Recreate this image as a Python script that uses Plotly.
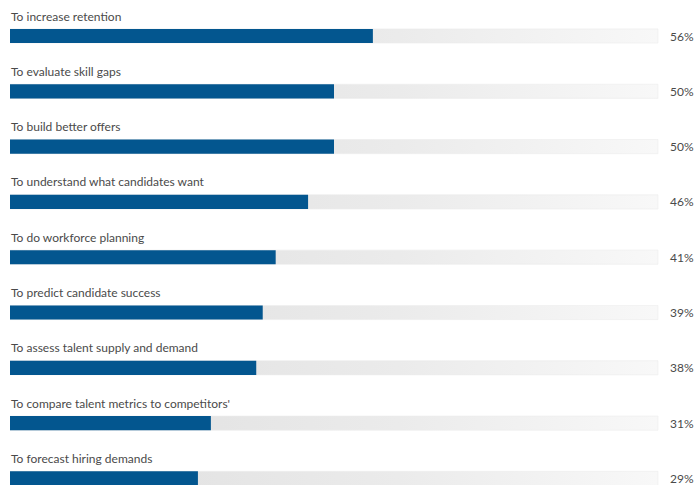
import plotly.graph_objects as go

# Survey responses: reasons for using talent data
reasons = [
    "To increase retention",
    "To evaluate skill gaps",
    "To build better offers",
    "To understand what candidates want",
    "To do workforce planning",
    "To predict candidate success",
    "To assess talent supply and demand",
    "To compare talent metrics to competitors'",
    "To forecast hiring demands",
]
shares = [56, 50, 50, 46, 41, 39, 38, 31, 29]
track_max = 100

BLUE = "#03568f"
TEXT = "#4a4a4a"
FONT = "Lato, 'Open Sans', sans-serif"
HALF = 0.128  # half bar thickness in row units


def rect(x_end, row):
    return [0, x_end, x_end, 0, 0], [row - HALF, row - HALF, row + HALF, row + HALF, row - HALF]


fig = go.Figure()

# grey background tracks with a soft left-to-right gradient
for i, _ in enumerate(reasons):
    xs, ys = rect(track_max, i)
    fig.add_trace(go.Scatter(
        x=xs, y=ys, mode="lines", line=dict(width=0.6, color="#ececec"),
        fill="toself",
        fillgradient=dict(type="horizontal",
                          colorscale=[[0, "#dedede"], [0.6, "#ebebeb"], [1, "#f8f8f8"]]),
        hoverinfo="skip", showlegend=False,
    ))

# value bars
for i, (name, v) in enumerate(zip(reasons, shares)):
    xs, ys = rect(v, i)
    fig.add_trace(go.Scatter(
        x=xs, y=ys, mode="lines", line=dict(width=0), fill="toself",
        fillcolor=BLUE, name=name, hoverinfo="name", showlegend=False,
    ))

annotations = []
for i, (name, v) in enumerate(zip(reasons, shares)):
    annotations.append(dict(
        x=0, y=i, xref="x", yref="y", text=name, showarrow=False,
        xanchor="left", yanchor="middle", yshift=20, xshift=-1,
        font=dict(family=FONT, size=12, color=TEXT),
    ))
    annotations.append(dict(
        x=1, y=i, xref="paper", yref="y", text=f"{v}%", showarrow=False,
        xanchor="right", yanchor="middle", xshift=1,
        font=dict(family=FONT, size=12, color=TEXT),
    ))

fig.update_layout(
    width=695, height=485,
    margin=dict(l=10, r=0, t=0, b=0),
    paper_bgcolor="white", plot_bgcolor="white",
    xaxis=dict(range=[0, 105.71], visible=False, fixedrange=True),
    yaxis=dict(range=[8.119, -0.651], visible=False, fixedrange=True),
    annotations=annotations,
    showlegend=False,
)

fig.write_html("out.html")
